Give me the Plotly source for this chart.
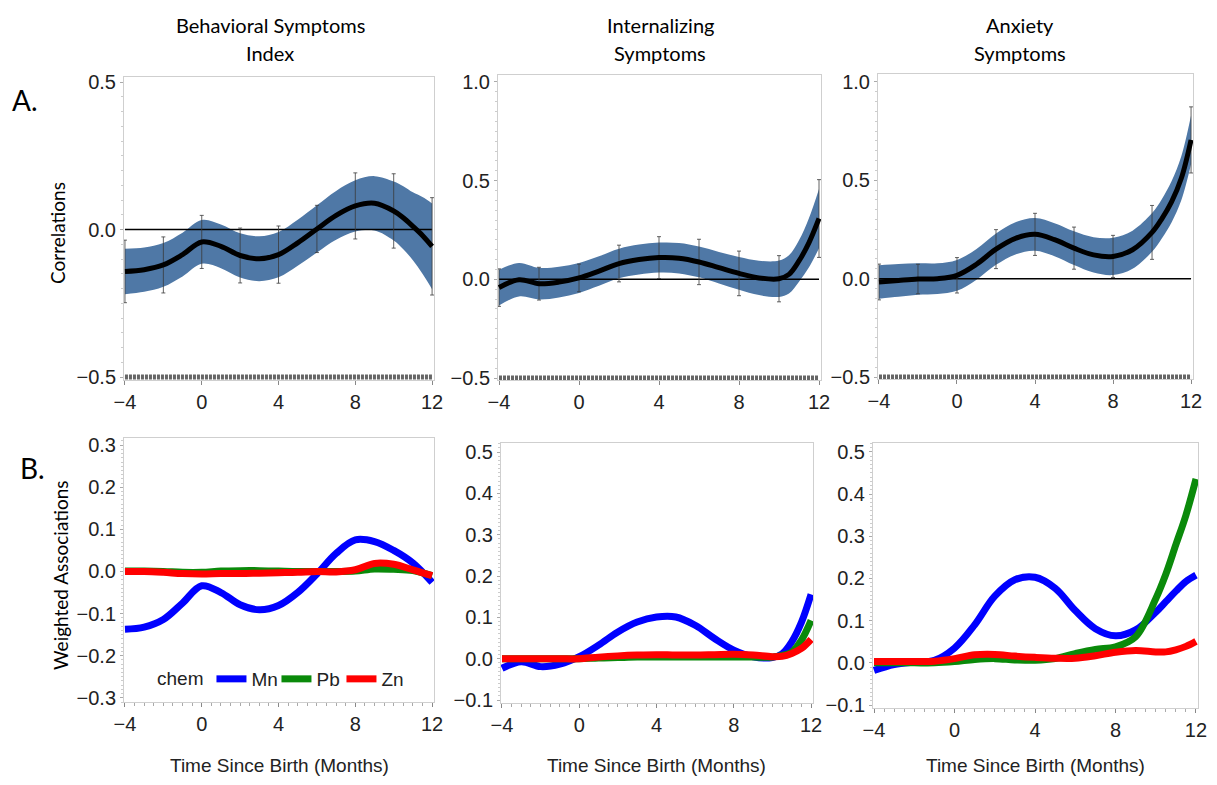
import plotly.graph_objects as go

# ---------------- data ----------------
x_top = [-4, -3, -2, -1, 0, 1, 2, 3, 4, 5, 6, 7, 8, 9, 10, 10.5, 11, 11.5, 12]
x_err = [-4, -2, 0, 2, 4, 6, 8, 10, 12]

# Behavioral Symptoms Index - correlations
bsi_mean = [-0.142, -0.136, -0.12, -0.085, -0.042, -0.057, -0.088, -0.099, -0.085, -0.045,
            0.002, 0.048, 0.08, 0.089, 0.063, 0.04, 0.011, -0.02, -0.057]
bsi_half = [0.077, 0.075, 0.074, 0.074, 0.074, 0.074, 0.075, 0.076, 0.077, 0.078,
            0.08, 0.083, 0.087, 0.092, 0.1, 0.107, 0.115, 0.13, 0.145]
bsi_err = [0.106, 0.095, 0.09, 0.093, 0.097, 0.08, 0.112, 0.126, 0.165]

# Internalizing Symptoms - correlations
int_mean = [-0.042, -0.002, -0.022, -0.014, 0.007, 0.042, 0.08, 0.10, 0.11, 0.107,
            0.088, 0.059, 0.03, 0.007, 0.003, 0.025, 0.093, 0.186, 0.308]
int_half = [0.09, 0.085, 0.08, 0.078, 0.076, 0.075, 0.075, 0.076, 0.076, 0.077,
            0.078, 0.08, 0.083, 0.087, 0.092, 0.097, 0.105, 0.125, 0.15]
int_err = [0.095, 0.083, 0.07, 0.093, 0.106, 0.115, 0.113, 0.117, 0.197]

# Anxiety Symptoms - correlations
anx_mean = [-0.017, -0.009, -0.002, 0.0, 0.017, 0.073, 0.15, 0.205, 0.225, 0.198,
            0.155, 0.121, 0.113, 0.147, 0.235, 0.304, 0.39, 0.51, 0.705]
anx_half = [0.085, 0.083, 0.08, 0.078, 0.078, 0.078, 0.08, 0.082, 0.083, 0.084,
            0.086, 0.09, 0.095, 0.097, 0.098, 0.1, 0.105, 0.112, 0.124]
anx_err = [0.091, 0.075, 0.09, 0.099, 0.107, 0.107, 0.107, 0.137, 0.168]

rug_x = [-4, 12]

# Weighted associations
x_bl = [-4, -3, -2, -1, 0, 1, 2, 3, 4, 5, 6, 7, 8, 9, 10, 11, 12]
bl_mn = [-0.137, -0.132, -0.114, -0.075, -0.034, -0.05, -0.079, -0.091, -0.081, -0.05,
         -0.006, 0.043, 0.075, 0.071, 0.05, 0.02, -0.026]
bl_pb = [0.001, 0.001, 0.0, -0.002, -0.002, 0.001, 0.002, 0.002, 0.001, 0.0,
         0.0, 0.0, 0.001, 0.006, 0.005, 0.002, -0.01]
bl_zn = [0.0, 0.0, -0.002, -0.005, -0.006, -0.005, -0.005, -0.004, -0.003, -0.002,
         0.0, -0.001, 0.004, 0.019, 0.017, 0.004, -0.01]

x_b = [-4, -3, -2, -1, 0, 1, 2, 3, 4, 5, 6, 7, 8, 9, 10, 10.5, 11, 11.5, 12]
bm_mn = [-0.023, -0.007, -0.019, -0.013, 0.005, 0.033, 0.065, 0.089, 0.101, 0.101,
         0.081, 0.049, 0.021, 0.005, 0.003, 0.012, 0.041, 0.088, 0.156]
bm_pb = [0.0, 0.0, 0.0, 0.0, 0.0, 0.002, 0.003, 0.004, 0.004, 0.004,
         0.004, 0.004, 0.004, 0.004, 0.004, 0.008, 0.016, 0.045, 0.093]
bm_zn = [0.0, 0.0, 0.0, 0.0, 0.0, 0.004, 0.007, 0.009, 0.01, 0.009,
         0.009, 0.01, 0.011, 0.009, 0.005, 0.006, 0.013, 0.025, 0.047]

br_mn = [-0.018, -0.004, 0.002, 0.006, 0.035, 0.09, 0.158, 0.197, 0.203, 0.177,
         0.124, 0.081, 0.064, 0.078, 0.12, 0.145, 0.17, 0.193, 0.208]
br_pb = [0.0, 0.0, 0.0, 0.0, 0.003, 0.008, 0.01, 0.007, 0.006, 0.01,
         0.022, 0.032, 0.038, 0.062, 0.152, 0.21, 0.28, 0.35, 0.436]
br_zn = [0.003, 0.003, 0.003, 0.004, 0.01, 0.019, 0.02, 0.016, 0.013, 0.011,
         0.011, 0.017, 0.025, 0.029, 0.026, 0.026, 0.031, 0.039, 0.051]

chems = ["Mn", "Pb", "Zn"]
chem_colors = ["#0000ff", "#0a8a0a", "#ff0000"]

col_titles = [["Behavioral Symptoms", "Index"], ["Internalizing", "Symptoms"], ["Anxiety", "Symptoms"]]
x_ticks = [-4, 0, 4, 8, 12]
x_title = "Time Since Birth (Months)"

# ---------------- layout helpers ----------------
# the page body has an 8px margin, so the figure is 16px smaller and offset by 8px
OFF = 8
W, H = 1217 - 2 * OFF, 785 - 2 * OFF
def fx(p): return (p - OFF) / W
def fy(p): return 1 - (p - OFF) / H

TICKF = "Liberation Sans, Arial, sans-serif"
TXTF = "Lato, Carlito, Calibri, Open Sans, sans-serif"
BAND = "#4f78a6"
FRAME = "#cfcfcf"

panels = [
    dict(x0=124, x1=434, y0=77, y1=380, yr=[-0.51, 0.517], yt=[-0.5, 0.0, 0.5], dy=0.5),
    dict(x0=498, x1=821, y0=75, y1=380, yr=[-0.51, 1.035], yt=[-0.5, 0.0, 0.5, 1.0], dy=0.5),
    dict(x0=878, x1=1193, y0=74, y1=379, yr=[-0.51, 1.04], yt=[-0.5, 0.0, 0.5, 1.0], dy=0.5),
    dict(x0=124, x1=434, y0=438, y1=702, yr=[-0.31, 0.317], dy=0.1),
    dict(x0=501, x1=813, y0=443, y1=703, yr=[-0.107, 0.522], dy=0.1),
    dict(x0=873, x1=1198, y0=443, y1=708, yr=[-0.107, 0.521], dy=0.1),
]

fig = go.Figure()

top_sets = [(bsi_mean, bsi_half, bsi_err), (int_mean, int_half, int_err), (anx_mean, anx_half, anx_err)]
for i, (mean, half, err) in enumerate(top_sets):
    xa, ya = f"x{i+1}", f"y{i+1}"
    lower = [m - h for m, h in zip(mean, half)]
    upper = [m + h for m, h in zip(mean, half)]
    fig.add_trace(go.Scatter(x=x_top, y=lower, mode="lines", line=dict(width=0, shape="spline", color=BAND),
                             showlegend=False, hoverinfo="skip", xaxis=xa, yaxis=ya))
    fig.add_trace(go.Scatter(x=x_top, y=upper, mode="lines", line=dict(width=0, shape="spline", color=BAND),
                             fill="tonexty", fillcolor=BAND, showlegend=False, hoverinfo="skip", xaxis=xa, yaxis=ya))
    fig.add_trace(go.Scatter(x=[x_top[0], x_top[-1]], y=[0, 0], mode="lines", line=dict(color="black", width=1.5),
                             showlegend=False, hoverinfo="skip", xaxis=xa, yaxis=ya))
    centers = [mean[x_top.index(v)] for v in x_err]
    fig.add_trace(go.Scatter(x=x_err, y=centers, mode="markers", marker=dict(size=1, color="rgba(0,0,0,0)"),
                             error_y=dict(type="data", array=err, visible=True, color="#3a3a3a", thickness=0.8, width=2),
                             showlegend=False, hoverinfo="skip", xaxis=xa, yaxis=ya))
    fig.add_trace(go.Scatter(x=x_top, y=mean, mode="lines", line=dict(color="black", width=5, shape="spline"),
                             showlegend=False, xaxis=xa, yaxis=ya))
    fig.add_trace(go.Scatter(x=rug_x, y=[-0.5, -0.5], mode="lines",
                             line=dict(color="#666666", width=5, dash="3px,1px"),
                             showlegend=False, hoverinfo="skip", xaxis=xa, yaxis=ya))

bottom_sets = [(x_bl, [bl_mn, bl_pb, bl_zn]), (x_b, [bm_mn, bm_pb, bm_zn]), (x_b, [br_mn, br_pb, br_zn])]
for j, (xs, series) in enumerate(bottom_sets):
    xa, ya = f"x{j+4}", f"y{j+4}"
    for name, col, ys in zip(chems, chem_colors, series):
        fig.add_trace(go.Scatter(x=xs, y=ys, mode="lines", name=name,
                                 line=dict(color=col, width=7, shape="spline"),
                                 showlegend=(j == 0), legendgroup=name, xaxis=xa, yaxis=ya))

layout = dict(
    width=W, height=H, margin=dict(l=0, r=0, t=0, b=0, autoexpand=False),
    paper_bgcolor="white", plot_bgcolor="white",
    font=dict(family=TICKF, size=20, color="#222"),
    legend=dict(orientation="h", x=fx(155), y=fy(679), xanchor="left", yanchor="middle",
                title=dict(text="chem", side="left", font=dict(family=TICKF, size=19, color="#222")),
                font=dict(family=TICKF, size=19, color="#222"), bgcolor="rgba(0,0,0,0)",
                itemwidth=30, entrywidth=20, entrywidthmode="pixels", tracegroupgap=0),
)
for k, p in enumerate(panels):
    bottom = k >= 3
    xd = dict(
        domain=[fx(p["x0"]), fx(p["x1"])], range=[-4.05, 12.1], anchor=f"y{k+1}", automargin=False,
        tickmode="array", tickvals=x_ticks, ticks="outside", ticklen=4, tickcolor="#888",
        showline=True, mirror=True, linecolor=FRAME, linewidth=1, showgrid=False, zeroline=False,
        tickfont=dict(family=TICKF, size=20, color="#222"),
    )
    if bottom:
        xd["minor"] = dict(ticks="outside", ticklen=3, dtick=0.5, tickcolor="#aaa")
    layout[f"xaxis{k+1}"] = xd
    ydict = dict(
        domain=[fy(p["y1"]), fy(p["y0"])], range=p["yr"], anchor=f"x{k+1}", automargin=False,
        dtick=p["dy"], tick0=0, tickformat=".1f", ticks="outside", ticklen=3, tickcolor="#aaa",
        showline=True, mirror=True, linecolor=FRAME, linewidth=1, showgrid=False, zeroline=False,
        tickfont=dict(family=TICKF, size=20, color="#222"),
        minor=dict(ticks="outside", ticklen=2, dtick=p["dy"] / 10, tickcolor="#ccc"),
    )
    if "yt" in p:
        ydict["tickmode"] = "array"
        ydict["tickvals"] = p["yt"]
    layout[f"yaxis{k+1}"] = ydict
fig.update_layout(**layout)

ann = []
title_cx = [270, 660, 1020]
for cx, lines in zip(title_cx, col_titles):
    ann.append(dict(text=lines[0], x=fx(cx), y=fy(25), xref="paper", yref="paper", showarrow=False,
                    xanchor="center", yanchor="middle", font=dict(family=TXTF, size=20, color="black")))
    ann.append(dict(text=lines[1], x=fx(cx), y=fy(53), xref="paper", yref="paper", showarrow=False,
                    xanchor="center", yanchor="middle", font=dict(family=TXTF, size=20, color="black")))
ann.append(dict(text="A.", x=fx(10), y=fy(100), xref="paper", yref="paper", showarrow=False,
                xanchor="left", yanchor="middle", font=dict(family=TXTF, size=28, color="black")))
ann.append(dict(text="B.", x=fx(18), y=fy(468), xref="paper", yref="paper", showarrow=False,
                xanchor="left", yanchor="middle", font=dict(family=TXTF, size=28, color="black")))
ann.append(dict(text="Correlations", x=fx(57), y=fy(233), xref="paper", yref="paper", showarrow=False,
                textangle=-90, xanchor="center", yanchor="middle", font=dict(family=TXTF, size=19, color="black")))
ann.append(dict(text="Weighted Associations", x=fx(60), y=fy(575), xref="paper", yref="paper", showarrow=False,
                textangle=-90, xanchor="center", yanchor="middle", font=dict(family=TXTF, size=19, color="black")))
for cx, cy in [(279, 765), (657, 765), (1035, 765)]:
    ann.append(dict(text=x_title, x=fx(cx), y=fy(cy), xref="paper", yref="paper", showarrow=False,
                    xanchor="center", yanchor="middle", font=dict(family=TICKF, size=19, color="#222")))
fig.update_layout(annotations=ann)

fig.write_html("out.html")
